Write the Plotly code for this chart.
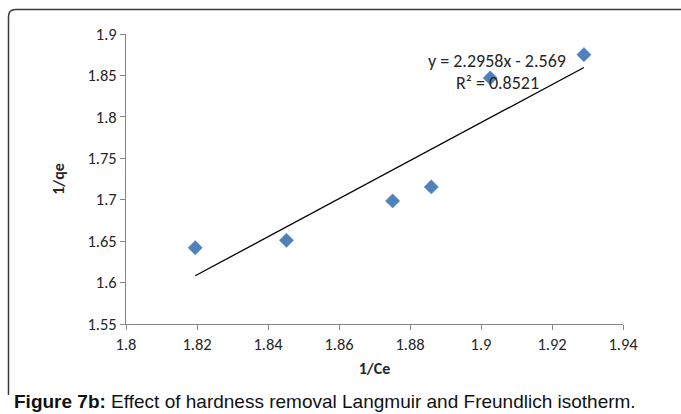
import numpy as np
import plotly.graph_objects as go

# Data
inv_ce = [1.8195, 1.8452, 1.8751, 1.8860, 1.9026, 1.9290]
inv_qe = [1.642, 1.651, 1.6985, 1.7154, 1.847, 1.875]
slope = 2.2958
intercept = -2.569
r_squared = 0.8521
x_ticks = [1.8, 1.82, 1.84, 1.86, 1.88, 1.9, 1.92, 1.94]
x_tick_labels = ["1.8", "1.82", "1.84", "1.86", "1.88", "1.9", "1.92", "1.94"]
y_ticks = [1.55, 1.6, 1.65, 1.7, 1.75, 1.8, 1.85, 1.9]
y_tick_labels = ["1.55", "1.6", "1.65", "1.7", "1.75", "1.8", "1.85", "1.9"]
caption_bold = "Figure 7b:"
caption_rest = " Effect of hardness removal Langmuir and Freundlich isotherm."

W, H = 681, 414
L, R, T, B = 126, 58, 34, 90
pw, ph = W - L - R, H - T - B


def px(x):
    return (x - L) / pw


def py(y):
    return (H - B - y) / ph


FONT = "Carlito, Calibri, Lato, sans-serif"
tick_font = dict(family=FONT, size=16.5, color="#262626")

fit_x = np.array([min(inv_ce), max(inv_ce)])
fit_y = slope * fit_x + intercept

fig = go.Figure()
fig.add_trace(go.Scatter(
    x=inv_ce, y=inv_qe, mode="markers",
    marker=dict(symbol="diamond", size=11, color="#4F81BD",
                line=dict(width=0.5, color="#5A8AC6")),
    showlegend=False, hoverinfo="x+y"))
fig.add_trace(go.Scatter(
    x=fit_x, y=fit_y, mode="lines",
    line=dict(color="black", width=1.3),
    showlegend=False, hoverinfo="skip"))

axis_common = dict(showgrid=False, zeroline=False, showline=True,
                   linecolor="#868686", linewidth=1, ticks="outside",
                   ticklen=5, tickcolor="#868686", tickfont=tick_font)

fig.update_xaxes(range=[1.8, 1.94], tickvals=x_ticks, ticktext=x_tick_labels,
                 title=dict(text="<b>1/Ce</b>", standoff=10,
                            font=dict(family=FONT, size=16, color="#262626")),
                 **axis_common)
fig.update_yaxes(range=[1.55, 1.9], tickvals=y_ticks, ticktext=y_tick_labels,
                 title=dict(text="<b>1/qe</b>", standoff=18,
                            font=dict(family=FONT, size=16, color="#262626")),
                 **axis_common)

eq_font = dict(family=FONT, size=18, color="#262626")
fig.add_annotation(x=px(497), y=py(61), xref="paper", yref="paper",
                   text=f"y = {slope}x - {abs(intercept)}", showarrow=False,
                   font=eq_font, xanchor="center", yanchor="middle")
fig.add_annotation(x=px(497), y=py(83), xref="paper", yref="paper",
                   text=f"R² = {r_squared}", showarrow=False,
                   font=eq_font, xanchor="center", yanchor="middle")

fig.add_annotation(x=px(12), y=py(401), xref="paper", yref="paper",
                   text=f"<b>{caption_bold}</b>{caption_rest}", showarrow=False,
                   font=dict(family="Liberation Sans, Arial, sans-serif", size=19, color="#111111"),
                   xanchor="left", yanchor="middle")

# outer frame (rounded top-left corner)
x0, y0, yb, xr = 8.5, 9.5, 395, 700
r = 7
path = (f"M {px(x0)},{py(yb)} L {px(x0)},{py(y0 + r)} "
        f"Q {px(x0)},{py(y0)} {px(x0 + r)},{py(y0)} L {px(xr)},{py(y0)}")
fig.add_shape(type="path", path=path, xref="paper", yref="paper",
              line=dict(color="#3a3a3a", width=1.5))

fig.update_layout(width=W, height=H, margin=dict(l=L, r=R, t=T, b=B),
                  paper_bgcolor="white", plot_bgcolor="white")

fig.write_html("out.html", config={"displayModeBar": False},
               post_script="document.body.style.margin='0';document.body.style.overflow='hidden';")
